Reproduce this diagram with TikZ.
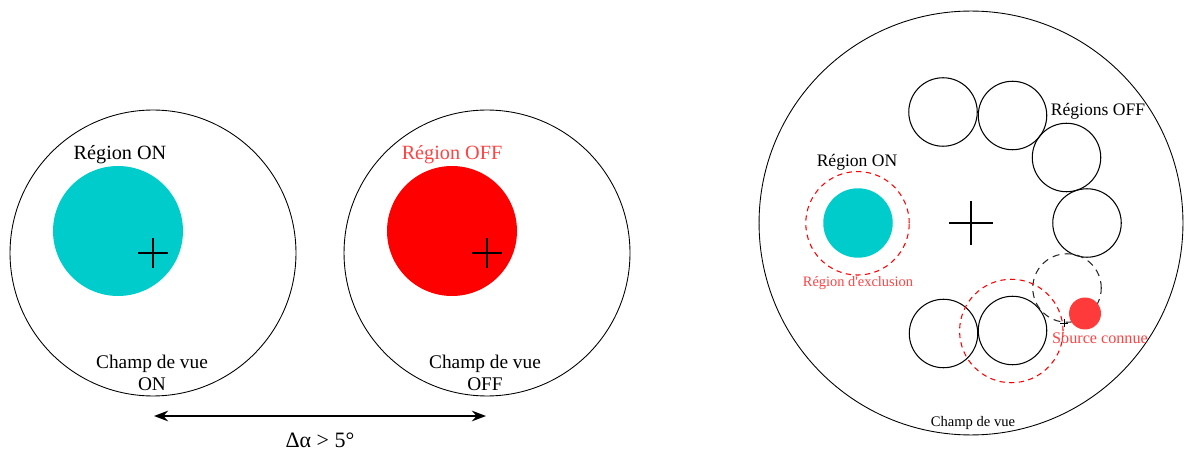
\documentclass[tikz,border=0pt]{standalone}
\usepackage{fontspec}
\setmainfont{Liberation Serif}
\usetikzlibrary{positioning,arrows.meta}
\definecolor{oncyan}{RGB}{0,204,204}
\definecolor{offred}{RGB}{255,0,0}
\definecolor{srcred}{RGB}{255,58,58}
\definecolor{txtred}{RGB}{255,66,66}

\begin{document}
\begin{tikzpicture}[
    x=0.02cm, y=-0.02cm,
    fov/.style={circle, draw, line width=0.5pt, inner sep=0pt},
    blob/.style={circle, inner sep=0pt, minimum size=2.6cm},
    offreg/.style={circle, draw, line width=0.6pt, inner sep=0pt, minimum size=1.37cm},
    excl/.style={circle, draw=offred, dash pattern=on 3pt off 2.5pt, line width=0.6pt, inner sep=0pt, minimum size=2.07cm},
    lbl/.style={font=\fontsize{11.5}{12.5}\selectfont, align=center, inner sep=0pt},
    small/.style={font=\fontsize{10}{12}\selectfont, inner sep=0pt}
]
    \useasboundingbox (0,0) rectangle (1185,452);

    % ON / OFF fields of view
    \node[fov, minimum size=5.72cm] (fovon) at (153,253) {};
    \node[fov, minimum size=5.72cm] (fovoff) at (487,253) {};
    \node[blob, fill=oncyan] (on) at (118,231) {};
    \node[blob, fill=offred] (off) at (452,231) {};
    \foreach \c in {fovon, fovoff}
        \draw[line width=0.6pt] (\c.center) ++(-15,0) -- ++(30,0)
                                (\c.center) ++(0,-15) -- ++(0,30);

    \node[lbl] (onlbl) at (120,155) {Région ON};
    \node[lbl, text=txtred] (offlbl) at (452,155) {Région OFF};
    \node[lbl, font=\fontsize{11}{12.6}\selectfont] (fovonlbl) at (152,373) {Champ de vue\\ON};
    \node[lbl, font=\fontsize{11}{12.6}\selectfont] (fovofflbl) at (485,373) {Champ de vue\\OFF};

    \coordinate (arrl) at (154,416);
    \coordinate (arrr) at (486,416);
    \draw[<->, >={Stealth[length=8pt, width=6pt]}, line width=1.5pt] (arrl) -- (arrr);
    \node[lbl, font=\fontsize{12.5}{14}\selectfont] (dalpha) at (320,440) {Δα > 5°};

    % single field of view with ring of OFF regions
    \node[fov, minimum size=8.48cm] (fov) at (971,223) {};
    \draw[line width=0.6pt] (fov.center) ++(-22,0) -- ++(44,0)
                            (fov.center) ++(0,-22) -- ++(0,44);

    \node[blob, minimum size=1.39cm, fill=oncyan] (onr) at (858,223) {};
    \node[excl] (exon) at (857.5,223.3) {};

    \foreach \p [count=\i] in {(943,112), (1012.5,115.5), (1066.5,157.5), (1087,223), (943.5,333.5), (1012.5,330.5)}
        \node[offreg] (off\i) at \p {};
    \node[offreg, draw=black!85, dash pattern=on 4pt off 3pt] (offsrc) at (1067,288) {};
    \node[excl] (exsrc) at (1011.3,331) {};
    \node[circle, inner sep=0pt, minimum size=0.64cm, fill=srcred] (src) at (1085,313.5) {};
    \draw[line width=0.5pt] (1064,323) ++(-4,0) -- ++(8,0) (1064,323) ++(0,-4) -- ++(0,8);

    \node[small] (onrlbl) at (857,162) {Région ON};
    \node[small] (offrlbl) at (1098,111) {Régions OFF};
    \node[small, font=\fontsize{8.2}{10}\selectfont, text=txtred] (exlbl) at (858,283) {Région d\textquotesingle exclusion};
    \node[small, font=\fontsize{9.2}{11}\selectfont, text=txtred] (srclbl) at (1100,338) {Source connue};
    \node[small, font=\fontsize{8.3}{10}\selectfont] (fovlbl) at (973,423) {Champ de vue};
\end{tikzpicture}
\end{document}
